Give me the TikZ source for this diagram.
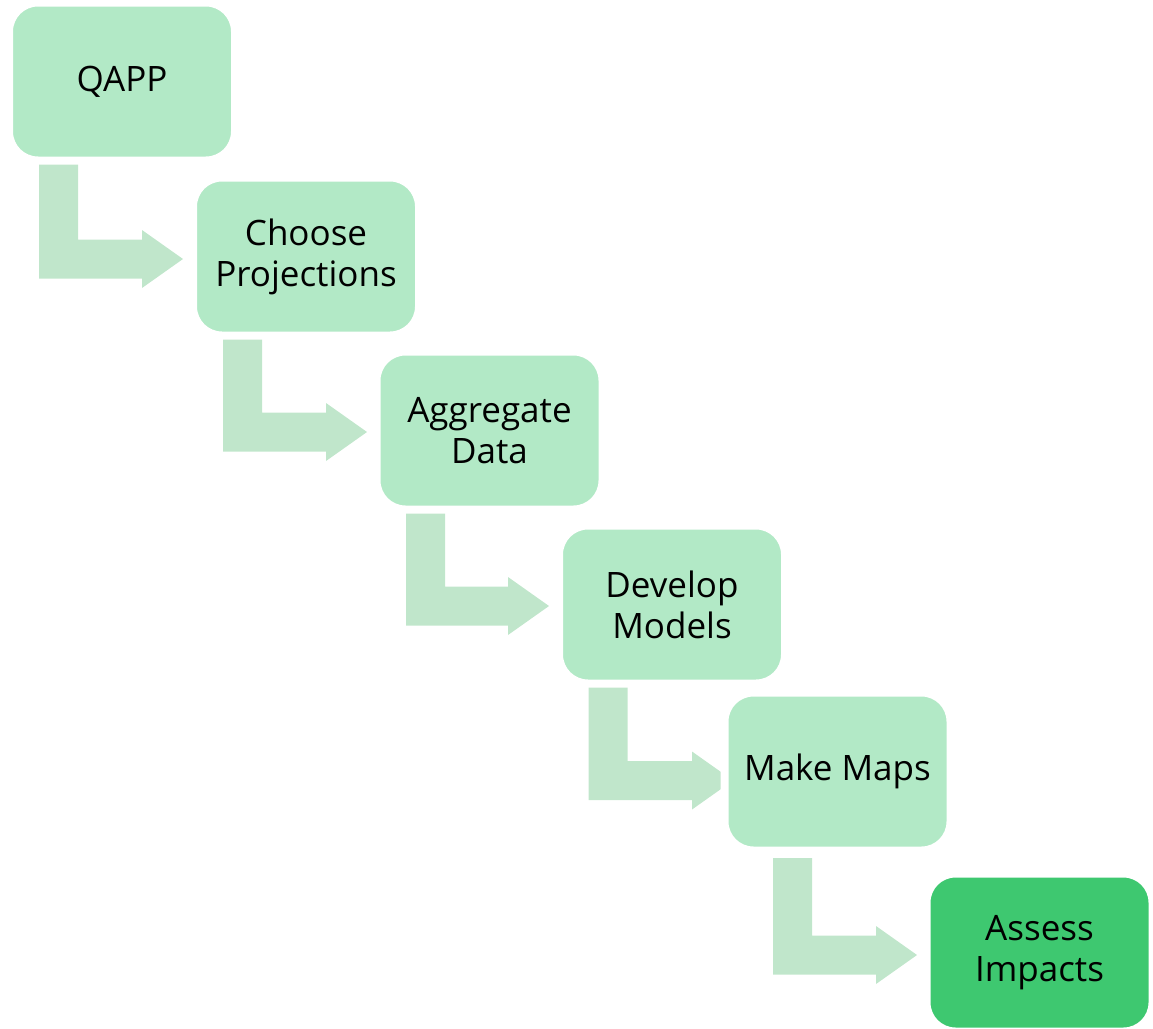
\documentclass[tikz,border=0pt]{standalone}
\usepackage{fontspec}
\setmainfont{Open Sans}
\usetikzlibrary{calc}

\definecolor{boxgreen}{HTML}{B2E9C6}
\definecolor{arrowgreen}{HTML}{C0E6CB}
\definecolor{finalgreen}{HTML}{3EC870}

\pgfdeclarelayer{bg}
\pgfsetlayers{bg,main}

\tikzset{
  stepbox/.style={rectangle, rounded corners=29pt, draw=white, line width=8pt,
    outer sep=0pt, inner sep=0pt, minimum width=226pt, minimum height=158pt,
    fill=boxgreen, align=center, text=black,
    font=\fontsize{35}{41}\selectfont},
  finalbox/.style={stepbox, fill=finalgreen},
  flowarrow/.style={fill=arrowgreen}
}

% bent block arrow: vertical shaft from #1 down, then right to the tip at #2
\newcommand\bentarrow[2]{%
  \fill[flowarrow] let \p1=(#1), \p2=(#2) in
    (\x1-19.5pt,\y1) -- (\x1+19.5pt,\y1) -- (\x1+19.5pt,\y2+19.5pt)
    -- (\x2-41pt,\y2+19.5pt) -- (\x2-41pt,\y2+29pt) -- (\x2,\y2)
    -- (\x2-41pt,\y2-29pt) -- (\x2-41pt,\y2-19.5pt)
    -- (\x1-19.5pt,\y2-19.5pt) -- cycle;}

\begin{document}
\begin{tikzpicture}[x=1pt,y=-1pt]
\useasboundingbox (0,0) rectangle (1153,1028);

\node[stepbox]  (qapp) at (122,81.5)    {QAPP};
\node[stepbox]  (proj) at (306,256.5)   {Choose\\Projections};
\node[stepbox]  (aggr) at (489.5,430.5) {Aggregate\\Data};
\node[stepbox]  (dev)  at (672,604.5)   {Develop\\Models};
\node[stepbox]  (maps) at (837.5,771.5) {Make Maps};
\node[finalbox] (impact) at (1039.5,952.5) {Assess\\Impacts};

\coordinate (s1) at ([xshift=-63.5pt,yshift=-80.5pt]qapp.center);
\coordinate (e1) at ([xshift=-123pt,yshift=-2.5pt]proj.center);
\coordinate (s2) at ([xshift=-63.5pt,yshift=-79.5pt]proj.center);
\coordinate (e2) at ([xshift=-122.5pt,yshift=-1.5pt]aggr.center);
\coordinate (s3) at ([xshift=-64pt,yshift=-79.5pt]aggr.center);
\coordinate (e3) at ([xshift=-123pt,yshift=-1.5pt]dev.center);
\coordinate (s4) at ([xshift=-64pt,yshift=-79.5pt]dev.center);
\coordinate (e4) at ([xshift=-104.5pt,yshift=-9pt]maps.center);
\coordinate (s5) at ([xshift=-45pt,yshift=-86.5pt]maps.center);
\coordinate (e5) at ([xshift=-122.5pt,yshift=-2.5pt]impact.center);

\begin{pgfonlayer}{bg}
  \bentarrow{s1}{e1}
  \bentarrow{s2}{e2}
  \bentarrow{s3}{e3}
  \bentarrow{s4}{e4}
  \bentarrow{s5}{e5}
\end{pgfonlayer}
\end{tikzpicture}
\end{document}
